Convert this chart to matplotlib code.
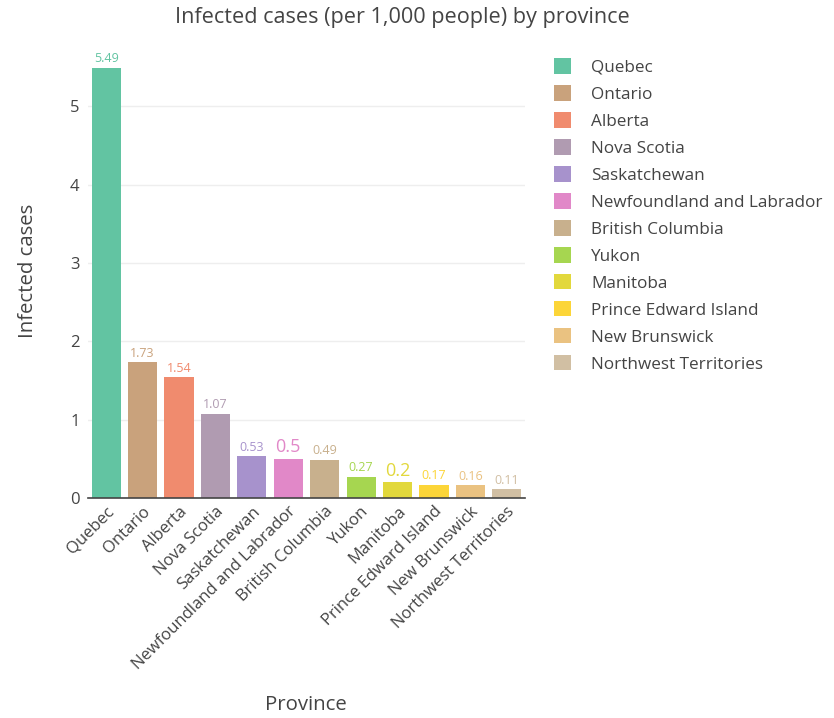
import matplotlib
matplotlib.use("Agg")
import matplotlib.pyplot as plt
from matplotlib.patches import Patch

plt.rcParams['font.family'] = ['Open Sans', 'DejaVu Sans']

provinces = ["Quebec", "Ontario", "Alberta", "Nova Scotia", "Saskatchewan",
             "Newfoundland and Labrador", "British Columbia", "Yukon", "Manitoba",
             "Prince Edward Island", "New Brunswick", "Northwest Territories"]
cases_per_1000 = [5.49, 1.73, 1.54, 1.07, 0.53, 0.5, 0.49, 0.27, 0.2, 0.17, 0.16, 0.11]
bar_colors = ["#62c4a2", "#c9a27c", "#f08b6e", "#b09bb1", "#a792cc", "#e188c8",
              "#c8b08d", "#a6d650", "#e2d83c", "#fcd538", "#eac281", "#d1bfa3"]
# labels that sit outside narrow bars are drawn larger
label_sizes = [9, 9, 9, 9, 9, 13, 9, 9, 13, 9, 9, 9]

fig = plt.figure(figsize=(8.34, 7.18), dpi=100)
ax = fig.add_axes([88 / 834, 1 - 498 / 718, 437 / 834, 453 / 718])

x = list(range(len(provinces)))
bars = ax.bar(x, cases_per_1000, width=0.8, color=bar_colors, zorder=2)

for xi, v, c, fs in zip(x, cases_per_1000, bar_colors, label_sizes):
    ax.annotate(f"{v:g}", (xi, v), xytext=(0, 2), textcoords="offset points",
                ha="center", va="bottom", color=c, fontsize=fs)

ax.set_xlim(-0.5, len(provinces) - 0.5)
ax.set_ylim(0, 5.78)
ax.set_yticks([0, 1, 2, 3, 4, 5])
ax.grid(axis="y", color="#eeeeee", linewidth=1, zorder=0)
ax.set_axisbelow(True)
for s in ["top", "right", "left"]:
    ax.spines[s].set_visible(False)
ax.spines["bottom"].set_color("#444444")
ax.spines["bottom"].set_linewidth(1.2)
ax.spines["bottom"].set_zorder(3)
ax.tick_params(axis="both", length=0, colors="#444444", labelsize=12)
ax.tick_params(axis="y", pad=6)
ax.tick_params(axis="x", pad=4)
ax.set_xticks(x)
ax.set_xticklabels(provinces, rotation=45, ha="right", rotation_mode="anchor")

fig.text(28 / 834, 1 - 271 / 718, "Infected cases", fontsize=14.7, color="#444444",
         ha="center", va="center", rotation=90)
fig.text(306 / 834, 1 - 705 / 718, "Province", fontsize=14.7, color="#444444",
         ha="center", va="center")
fig.text(402 / 834, 1 - 18 / 718, "Infected cases (per 1,000 people) by province",
         fontsize=15.6, color="#444444", ha="center", va="center")

handles = [Patch(facecolor=c, edgecolor="none") for c in bar_colors]
leg = fig.legend(handles, provinces, loc="upper left",
                 bbox_to_anchor=(539 / 834, 1 - 43 / 718), frameon=False,
                 fontsize=12.3, handlelength=1.0, handleheight=1.0,
                 handletextpad=1.15, labelspacing=0.555, labelcolor="#444444")

fig.savefig("out.png", dpi=100, facecolor="white")
